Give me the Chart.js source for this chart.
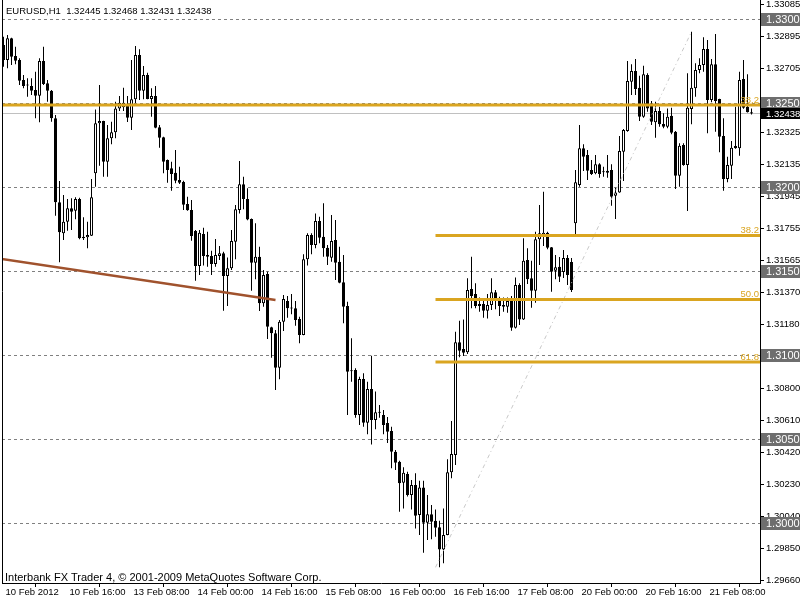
<!DOCTYPE html>
<html><head><meta charset="utf-8">
<script src="https://cdn.jsdelivr.net/npm/chart.js@4.4.0/dist/chart.umd.min.js"></script>
<style>html,body{margin:0;padding:0;background:#fff}canvas{display:block}</style>
</head><body>
<canvas id="c" width="800" height="600"></canvas>
<script>
const symbolTitle = "EURUSD,H1  1.32445 1.32468 1.32431 1.32438";
const footerText = "Interbank FX Trader 4, \u00A9 2001-2009 MetaQuotes Software Corp.";
const xTickBars = [0,16,32,48,64,80,96,112,128,144,160,176];
const xTickLabels = ["10 Feb 2012","10 Feb 16:00","13 Feb 08:00","14 Feb 00:00","14 Feb 16:00","15 Feb 08:00","16 Feb 00:00","16 Feb 16:00","17 Feb 08:00","20 Feb 00:00","20 Feb 16:00","21 Feb 08:00"];
const yTickValues = [1.33085,1.32895,1.32705,1.32515,1.32325,1.32135,1.31945,1.31755,1.31565,1.31370,1.31180,1.30990,1.30800,1.30610,1.30420,1.30230,1.30040,1.29850,1.29660];
const roundLevels = [1.3300,1.3250,1.3200,1.3150,1.3100,1.3050,1.3000];
const bidPrice = 1.32438;

const openP = [1.32845,1.32756,1.32885,1.32780,1.32756,1.32637,1.32605,1.32601,1.32577,1.32543,1.32750,1.32617,1.32573,1.32409,1.31909,1.31724,1.31793,1.31873,1.31859,1.31929,
1.31704,1.31701,1.31710,1.32082,1.32379,1.32393,1.32151,1.32290,1.32326,1.32468,1.32474,1.32494,1.32412,1.32522,1.32786,1.32573,1.32667,1.32524,1.32542,1.32355,
1.32296,1.32161,1.32111,1.32085,1.32042,1.32030,1.31899,1.31863,1.31738,1.31530,1.31720,1.31595,1.31589,1.31542,1.31589,1.31605,1.31470,1.31516,1.31674,1.31863,
1.32016,1.31929,1.31810,1.31549,1.31585,1.31308,1.31482,1.31165,1.31129,1.30924,1.31198,1.31321,1.31278,1.31278,1.31214,1.31119,1.31570,1.31714,1.31655,1.31798,
1.31704,1.31639,1.31579,1.31685,1.31555,1.31433,1.31292,1.30905,1.30911,1.30643,1.30857,1.30597,1.30798,1.30613,1.30657,1.30643,1.30595,1.30548,1.30424,1.30365,
1.30240,1.30292,1.30167,1.30226,1.30048,1.30212,1.30002,1.30052,1.30014,1.29974,1.29843,1.29929,1.30302,1.30405,1.31076,1.31036,1.31016,1.31393,1.31363,1.31304,
1.31304,1.31264,1.31298,1.31373,1.31323,1.31298,1.31287,1.31321,1.31162,1.31417,1.31212,1.31565,1.31457,1.31383,1.31689,1.31714,1.31728,1.31641,1.31502,1.31526,
1.31494,1.31577,1.31554,1.31784,1.32012,1.32230,1.32190,1.32101,1.32082,1.32135,1.32089,1.32097,1.32101,1.31948,1.31968,1.32210,1.32333,1.32627,1.32690,1.32591,
1.32418,1.32667,1.32488,1.32385,1.32452,1.32375,1.32359,1.32424,1.32329,1.32067,1.32250,1.32131,1.32464,1.32588,1.32696,1.32726,1.32821,1.32518,1.32730,1.32524,
1.32304,1.32048,1.32127,1.32244,1.32230,1.32643,1.32478,1.32445];
const highP = [1.32895,1.32905,1.32888,1.32835,1.32766,1.32667,1.32647,1.32647,1.32686,1.32766,1.32835,1.32637,1.32577,1.32429,1.32036,1.31952,1.31929,1.31933,1.31939,1.31936,
1.31820,1.31793,1.32048,1.32462,1.32607,1.32395,1.32369,1.32389,1.32508,1.32542,1.32591,1.32542,1.32756,1.32839,1.32820,1.32720,1.32680,1.32588,1.32601,1.32369,
1.32299,1.32163,1.32151,1.32220,1.32121,1.32037,1.31942,1.31923,1.31744,1.31744,1.31758,1.31734,1.31621,1.31690,1.31649,1.31615,1.31581,1.31744,1.31893,1.32155,
1.32061,1.31992,1.31812,1.31784,1.31645,1.31506,1.31496,1.31168,1.31149,1.31208,1.31357,1.31351,1.31363,1.31321,1.31228,1.31599,1.31724,1.31724,1.31843,1.31823,
1.31903,1.31655,1.31833,1.31804,1.31645,1.31595,1.31317,1.31099,1.30921,1.30871,1.30891,1.30841,1.30996,1.30782,1.30702,1.30673,1.30631,1.30573,1.30434,1.30371,
1.30332,1.30305,1.30256,1.30296,1.30252,1.30252,1.30167,1.30107,1.30081,1.30014,1.30087,1.30379,1.30607,1.31139,1.31204,1.31212,1.31457,1.31585,1.31427,1.31343,
1.31323,1.31363,1.31457,1.31387,1.31347,1.31343,1.31343,1.31351,1.31462,1.31427,1.31695,1.31635,1.31561,1.31734,1.31893,1.31972,1.31734,1.31643,1.31595,1.31583,
1.31625,1.31595,1.31577,1.32101,1.32369,1.32254,1.32220,1.32161,1.32190,1.32141,1.32121,1.32190,1.32135,1.31996,1.32304,1.32345,1.32750,1.32730,1.32762,1.32662,
1.32722,1.32677,1.32512,1.32508,1.32478,1.32439,1.32468,1.32472,1.32333,1.32260,1.32260,1.32677,1.32924,1.32736,1.32766,1.32891,1.32875,1.32762,1.32911,1.32526,
1.32409,1.32180,1.32274,1.32478,1.32686,1.32756,1.32671,1.32468];
const lowP = [1.32716,1.32707,1.32726,1.32730,1.32607,1.32588,1.32537,1.32548,1.32409,1.32385,1.32607,1.32508,1.32389,1.31829,1.31552,1.31685,1.31740,1.31744,1.31808,1.31689,
1.31685,1.31635,1.31708,1.32002,1.32127,1.32061,1.32061,1.32254,1.32290,1.32452,1.32452,1.32387,1.32339,1.32498,1.32518,1.32522,1.32522,1.32418,1.32349,1.32234,
1.32082,1.32026,1.31978,1.32022,1.32018,1.31863,1.31858,1.31680,1.31442,1.31476,1.31532,1.31526,1.31476,1.31526,1.31565,1.31264,1.31292,1.31506,1.31570,1.31843,
1.31867,1.31802,1.31383,1.31451,1.31262,1.31287,1.31095,1.30984,1.30792,1.30855,1.31143,1.31222,1.31242,1.31174,1.31070,1.31117,1.31532,1.31599,1.31635,1.31665,
1.31585,1.31536,1.31555,1.31446,1.31427,1.31189,1.30643,1.30841,1.30627,1.30583,1.30573,1.30528,1.30468,1.30558,1.30627,1.30528,1.30476,1.30326,1.30315,1.30067,
1.30087,1.30157,1.30081,1.29968,1.29929,1.29823,1.29899,1.29903,1.29918,1.29736,1.29760,1.29927,1.30266,1.30345,1.30986,1.30994,1.31006,1.31278,1.31278,1.31258,
1.31222,1.31218,1.31268,1.31272,1.31232,1.31258,1.31252,1.31145,1.31158,1.31179,1.31208,1.31423,1.31281,1.31311,1.31536,1.31649,1.31629,1.31377,1.31451,1.31435,
1.31458,1.31417,1.31375,1.31718,1.32002,1.32095,1.32042,1.32071,1.32076,1.32055,1.32061,1.32055,1.31889,1.31810,1.31966,1.32036,1.32329,1.32548,1.32548,1.32393,
1.32412,1.32448,1.32369,1.32293,1.32359,1.32349,1.32349,1.32314,1.31988,1.32002,1.32127,1.31857,1.32373,1.32537,1.32677,1.32686,1.32320,1.32504,1.32329,1.32207,
1.31978,1.32028,1.32048,1.32228,1.32186,1.32466,1.32443,1.32431];
const closeP = [1.32756,1.32885,1.32776,1.32752,1.32633,1.32601,1.32604,1.32573,1.32543,1.32750,1.32613,1.32573,1.32409,1.31909,1.31730,1.31793,1.31873,1.31853,1.31929,1.31695,
1.31695,1.31714,1.31939,1.32379,1.32393,1.32151,1.32290,1.32326,1.32468,1.32502,1.32502,1.32412,1.32522,1.32786,1.32573,1.32667,1.32524,1.32542,1.32353,1.32293,
1.32151,1.32101,1.32077,1.32037,1.32026,1.31895,1.31861,1.31708,1.31530,1.31728,1.31589,1.31585,1.31542,1.31595,1.31605,1.31470,1.31516,1.31679,1.31867,1.32016,
1.31929,1.31806,1.31549,1.31585,1.31308,1.31476,1.31168,1.31129,1.30924,1.31198,1.31333,1.31278,1.31277,1.31208,1.31119,1.31570,1.31714,1.31655,1.31798,1.31698,
1.31635,1.31585,1.31679,1.31549,1.31430,1.31287,1.30901,1.30903,1.30643,1.30857,1.30597,1.30798,1.30613,1.30659,1.30656,1.30583,1.30543,1.30424,1.30359,1.30236,
1.30299,1.30167,1.30226,1.30043,1.30212,1.30002,1.30052,1.30008,1.29972,1.29843,1.29929,1.30302,1.30411,1.31076,1.31026,1.31014,1.31387,1.31351,1.31292,1.31292,
1.31264,1.31298,1.31373,1.31337,1.31292,1.31287,1.31321,1.31162,1.31417,1.31212,1.31561,1.31451,1.31383,1.31689,1.31724,1.31728,1.31639,1.31496,1.31522,1.31466,
1.31577,1.31476,1.31387,1.32028,1.32230,1.32180,1.32097,1.32077,1.32135,1.32077,1.32088,1.32085,1.31942,1.31968,1.32214,1.32339,1.32631,1.32690,1.32583,1.32418,
1.32671,1.32468,1.32389,1.32452,1.32373,1.32359,1.32418,1.32323,1.32067,1.32246,1.32131,1.32472,1.32591,1.32696,1.32726,1.32821,1.32518,1.32730,1.32512,1.32299,
1.32048,1.32131,1.32234,1.32230,1.32637,1.32472,1.32445,1.32438];

// drawn objects
const trendBars = [-1, 68];
const trendPrices = [1.31574, 1.31327];
const fibBars = [108, 172];
const fibPrices = [1.29736, 1.32924];
const fibLevelLabels = ["38.2","50.0","61.8"];
const fibLevelPrices = [1.31712, 1.31331, 1.30958];
const upperLevelLabel = "38.2";
const upperLevelPrice = 1.32488;

const FONT = "Liberation Sans";
const GOLD = "#DAA520";
const xMin = -0.375, xMax = 189.125;
const yMax = 1.33 + 19/16800, yMin = yMax - 583/16800;

const wicks = lowP.map((l,i)=>({x:i, y:[l, highP[i]]}));
const bodies = openP.map((o,i)=>({x:i, y:[Math.min(o,closeP[i]), Math.max(o,closeP[i])]}));
const bodyFill = openP.map((o,i)=> closeP[i] > o ? "#ffffff" : "#000000");

const lineDs = (pts, color, width, dash, ord) => ({type:"line", data:pts, borderColor:color, borderWidth:width, borderDash:dash||[], pointRadius:0, fill:false, tension:0, order:ord});

const datasets = [
  {type:"bar", label:"wick", data:wicks, backgroundColor:"#000", borderWidth:0, barThickness:1, grouped:false, order:3, inflateAmount:0},
  {type:"bar", label:"body", data:bodies, backgroundColor:bodyFill, borderColor:"#000", borderWidth:1, borderSkipped:false, barThickness:3, minBarLength:1, grouped:false, order:2, inflateAmount:0},
  lineDs([{x:trendBars[0],y:trendPrices[0]},{x:trendBars[1],y:trendPrices[1]}], "#A0522D", 2.5, null, 1),
  lineDs([{x:fibBars[0],y:fibPrices[0]},{x:fibBars[1],y:fibPrices[1]}], "#C8C8C8", 1, [4,3,1,3], 1),
  lineDs([{x:xMin,y:upperLevelPrice},{x:xMax,y:upperLevelPrice}], GOLD, 3, null, 0)
];
fibLevelPrices.forEach(p=> datasets.push(lineDs([{x:fibBars[0],y:p},{x:xMax,y:p}], GOLD, 3, null, 0)));

const overlay = {
  id:"overlay",
  beforeDatasetsDraw(chart){
    const {ctx, chartArea:a, scales:{y}} = chart;
    ctx.save();
    ctx.lineWidth = 1;
    ctx.strokeStyle = "#808080";
    ctx.setLineDash([3,3]);
    roundLevels.forEach(p=>{
      const py = Math.round(y.getPixelForValue(p)) + 0.5;
      ctx.beginPath(); ctx.moveTo(a.left, py); ctx.lineTo(a.right, py); ctx.stroke();
    });
    ctx.setLineDash([]);
    ctx.strokeStyle = "#C0C0C0";
    const by = Math.round(y.getPixelForValue(bidPrice)) + 0.5;
    ctx.beginPath(); ctx.moveTo(a.left, by); ctx.lineTo(a.right, by); ctx.stroke();
    ctx.restore();
  },
  afterDatasetsDraw(chart){
    const {ctx, chartArea:a, scales:{y}} = chart;
    ctx.save();
    ctx.fillStyle = GOLD;
    ctx.font = "9.5px '" + FONT + "'";
    ctx.textAlign = "right"; ctx.textBaseline = "alphabetic";
    fibLevelPrices.forEach((p,i)=>{
      ctx.fillText(fibLevelLabels[i], a.right - 1, y.getPixelForValue(p) - 2.5);
    });
    ctx.fillText(upperLevelLabel, a.right - 1, y.getPixelForValue(upperLevelPrice) - 2.5);
    ctx.fillStyle = "#000";
    ctx.textAlign = "left";
    ctx.font = "9.5px '" + FONT + "'";
    ctx.fillText(symbolTitle, 6, 14);
    ctx.font = "11px '" + FONT + "'";
    ctx.fillText(footerText, 5, 581);
    ctx.strokeStyle = "#000"; ctx.lineWidth = 1;
    ctx.beginPath(); ctx.moveTo(a.left + 0.5, a.top); ctx.lineTo(a.left + 0.5, a.bottom); ctx.stroke();
    ctx.restore();
  },
  afterDraw(chart){
    const {ctx, chartArea:a, scales:{y}} = chart;
    ctx.save();
    ctx.textBaseline = "middle"; ctx.textAlign = "left";
    roundLevels.forEach(p=>{
      const py = Math.round(y.getPixelForValue(p));
      ctx.fillStyle = "#6E6E6E";
      ctx.fillRect(a.right + 1, py - 6, 800 - a.right - 1, 13);
      ctx.fillStyle = "#fff";
      ctx.font = "11px '" + FONT + "'";
      ctx.fillText(p.toFixed(4), a.right + 6, py + 1);
    });
    const by = Math.round(y.getPixelForValue(bidPrice));
    ctx.fillStyle = "#000";
    ctx.fillRect(a.right + 1, by - 5, 800 - a.right - 1, 11);
    ctx.fillStyle = "#fff";
    ctx.font = "9.5px '" + FONT + "'";
    ctx.fillText(bidPrice.toFixed(5), a.right + 6, by + 1);
    ctx.restore();
  }
};

const noPad = s => { s.paddingTop = 0; s.paddingBottom = 0; s.paddingLeft = 0; s.paddingRight = 0; };

new Chart(document.getElementById("c"), {
  type:"bar",
  data:{datasets},
  options:{
    responsive:false, animation:false, devicePixelRatio:1,
    layout:{padding:{left:2, right:0, top:0, bottom:0}},
    plugins:{legend:{display:false}, tooltip:{enabled:false}},
    scales:{
      x:{type:"linear", min:xMin, max:xMax, offset:false, bounds:"data", position:"bottom",
        afterBuildTicks:s=>{ s.ticks = xTickBars.map(v=>({value:v})); },
        afterFit:s=>{ s.height = 17; noPad(s); },
        grid:{display:true, drawOnChartArea:false, drawTicks:true, tickLength:4, color:"#000", lineWidth:1},
        border:{display:true, color:"#000", width:1},
        ticks:{autoSkip:false, maxRotation:0, minRotation:0, align:"start", labelOffset:2, padding:0, color:"#000",
          font:{family:FONT, size:9.5}, callback:(v,i)=> xTickLabels[i]}
      },
      y:{type:"linear", position:"right", min:yMin, max:yMax, bounds:"data",
        afterBuildTicks:s=>{ s.ticks = yTickValues.map(v=>({value:v})); },
        afterFit:s=>{ s.width = 40; noPad(s); },
        grid:{display:true, drawOnChartArea:false, drawTicks:true, tickLength:4, color:"#000", lineWidth:1},
        border:{display:true, color:"#000", width:1},
        ticks:{autoSkip:false, padding:2, color:"#000", font:{family:FONT, size:9.5}, callback:v=> v.toFixed(5)}
      }
    }
  },
  plugins:[overlay]
});
</script>
</body></html>
